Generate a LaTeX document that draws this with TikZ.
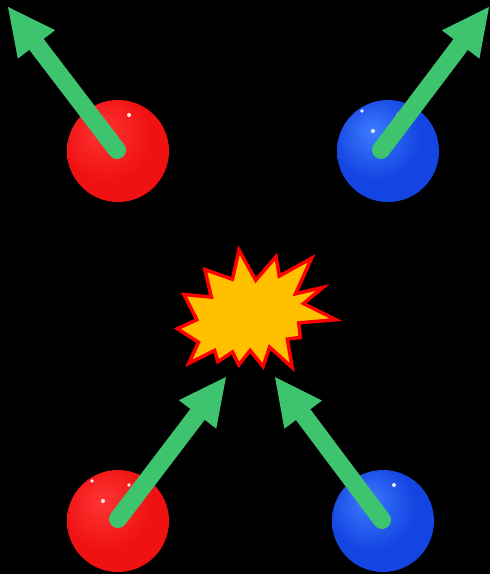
\documentclass[tikz,border=0pt]{standalone}
\usetikzlibrary{arrows.meta}

\definecolor{arrowgreen}{HTML}{3EC46E}
\definecolor{burstfill}{HTML}{FFC000}
\definecolor{burstedge}{HTML}{FF0000}
\definecolor{redlight}{HTML}{FF3434}
\definecolor{redmid}{HTML}{F01212}
\definecolor{reddark}{HTML}{B80606}
\definecolor{bluelight}{HTML}{3C7CFF}
\definecolor{bluemid}{HTML}{1444E2}
\definecolor{bluedark}{HTML}{0A2C9E}

% soft spherical shading, lit from the upper left
\pgfdeclareradialshading{redsphere}{\pgfpoint{-8bp}{10bp}}{%
  color(0bp)=(redlight); color(22bp)=(redmid); color(46bp)=(redmid);
  color(58bp)=(reddark); color(80bp)=(reddark)}
\pgfdeclareradialshading{bluesphere}{\pgfpoint{-8bp}{10bp}}{%
  color(0bp)=(bluelight); color(22bp)=(bluemid); color(46bp)=(bluemid);
  color(58bp)=(bluedark); color(80bp)=(bluedark)}

\tikzset{
  sphere/.style={circle, minimum size=102pt, inner sep=0pt},
  redball/.style={sphere, shading=redsphere},
  blueball/.style={sphere, shading=bluesphere},
  glint/.style={fill=white, opacity=0.9},
  motion/.style={draw=arrowgreen, line width=18pt, line cap=round,
    -{Triangle[length=47pt, width=47pt, line width=0pt]}},
  burst/.style={fill=burstfill, draw=burstedge, line width=3.5pt, line join=miter},
}

\begin{document}
\begin{tikzpicture}[x=1pt, y=-1pt]
  \useasboundingbox (0,0) rectangle (490,574);
  \fill[black] (0,0) rectangle (490,574);

  % particles
  \node[redball]  (redout)  at (118,151) {};
  \node[blueball] (blueout) at (388,151) {};
  \node[redball]  (redin)   at (118,521) {};
  \node[blueball] (bluein)  at (383,521) {};

  % specular glints
  \fill[glint] (129,115) circle (2);
  \fill[glint] (362,111) circle (1.8);
  \fill[glint] (398,114) circle (1.6);
  \fill[glint] (373,131) circle (2);
  \fill[glint] (92,481) circle (1.8);
  \fill[glint] (129,485) circle (1.8);
  \fill[glint] (103,501) circle (2);
  \fill[glint] (394,485) circle (2);

  % collision burst (outline traced on the stroke tips, pulled in for the mitre)
  \begin{scope}[shift={(256,310)}, scale=0.97, shift={(-256,-310)}]
  \draw[burst] (238.5,248.3) -- (255.7,279.3) -- (276.7,255) -- (280,275)
    -- (313.3,256.7) -- (296.7,293.3) -- (325,286.7) -- (305,303.3)
    -- (338.3,320) -- (300,323.3) -- (301.7,338.3) -- (288.3,340)
    -- (293.3,369.3) -- (270,348.3) -- (263.3,368.3) -- (250,351.7)
    -- (238.3,366.5) -- (231.7,353.3) -- (216.7,363.3) -- (213.3,351.7)
    -- (186.7,365) -- (196.7,343.3) -- (175,329.3) -- (195,320)
    -- (181.7,294) -- (210,296.7) -- (203.3,268.3) -- (231.7,278.3) -- cycle;
  \end{scope}

  % arrow anchors
  \coordinate (tailA) at (117,150);
  \coordinate (headA) at (8,7);
  \coordinate (tailB) at (381,150);
  \coordinate (headB) at (489,7);
  \coordinate (tailC) at (118,519);
  \coordinate (headC) at (226,377);
  \coordinate (tailD) at (382,520);
  \coordinate (headD) at (275,377);

  % velocity arrows
  \draw[motion] (tailA) -- (headA);
  \draw[motion] (tailB) -- (headB);
  \draw[motion] (tailC) -- (headC);
  \draw[motion] (tailD) -- (headD);
\end{tikzpicture}
\end{document}
